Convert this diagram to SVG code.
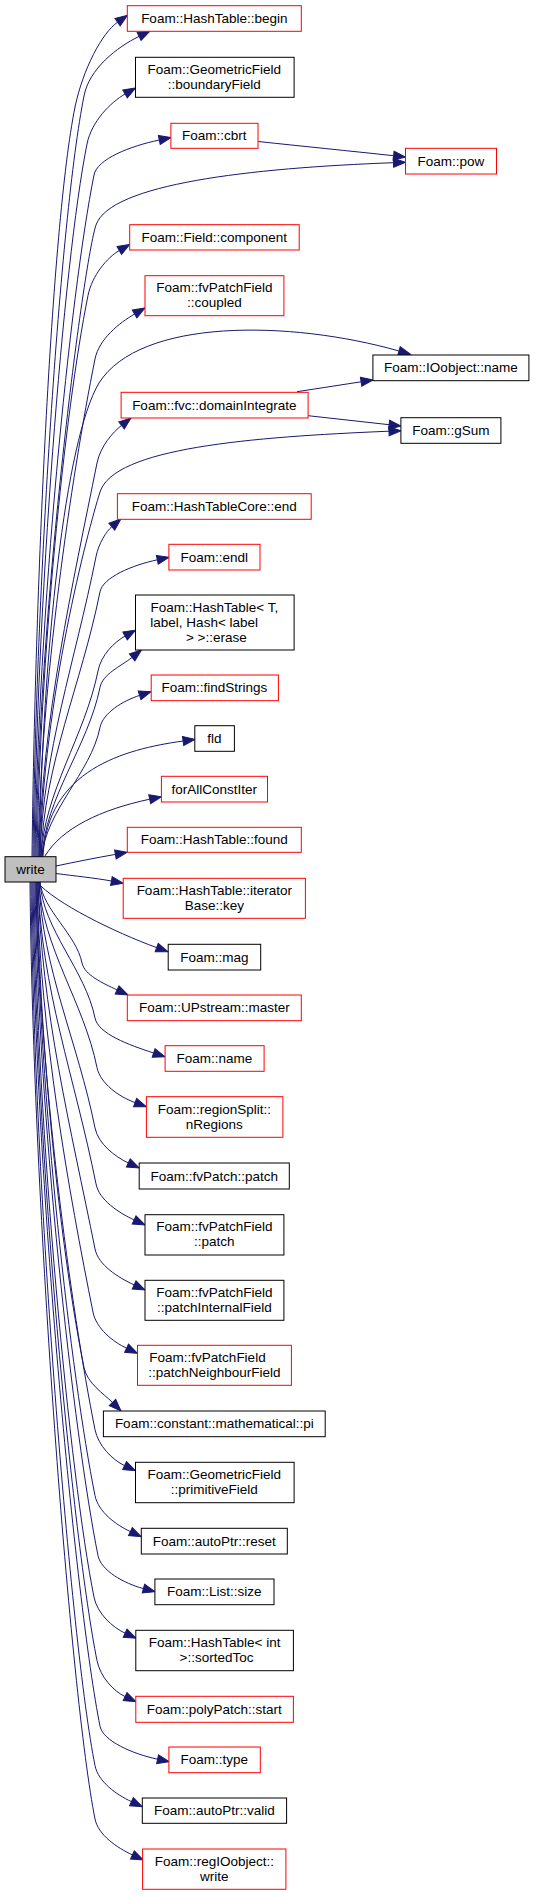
<svg xmlns="http://www.w3.org/2000/svg" width="535" height="1895" viewBox="0 0 535 1895">
<style>
.n rect{fill:#fff;stroke-width:1}
.r rect{stroke:#ff0000}
.b rect{stroke:#000}
text{font-family:"Liberation Sans",Arial,sans-serif;font-size:13.5px;fill:#000;text-anchor:middle}
#edges path{fill:none;stroke:#191970;stroke-width:1;marker-end:url(#arr)}
</style>
<defs>
<marker id="arr" markerWidth="12" markerHeight="9" refX="0" refY="4.5" orient="auto" markerUnits="userSpaceOnUse" viewBox="0 0 12 9" overflow="visible">
<path d="M0,0 L12,4.5 L0,9 z" fill="#191970" stroke="#191970" stroke-width="1"/>
</marker>
</defs>
<rect width="535" height="1895" fill="#fff"/>
<g id="edges">
<path d="M32,857 C35,594 51,227 75,107 C83,69 102,33 117.6,22.2"/>
<path d="M33,857 C36,591 60,216 84,96 C89,69 117,47 139.1,36.4"/>
<path d="M34,857 C37,607 63,264 87,144 C91.5,121.5 110.4,102.5 125.1,94"/>
<path d="M35,857 C38,618 70,295 94,175 C97,159 130.5,146 159.3,140"/>
<path d="M36,857 C39,600 84,260 96,225 C110,184 250,168 393.5,162.7"/>
<path d="M37,857 C40,660 64,415 88,295.5 C92,275.5 107.2,257.5 119.3,250.5"/>
<path d="M38,857 C41,683 71,479 95,359 C99,339 119.2,323 134.6,314"/>
<path d="M39,857 C43,650 65,440 99,383 C140,318 290,320 399,351"/>
<path d="M39,857 C42,719 73,583 97,463 C100.4,446.4 112.8,432.2 121.5,425.4"/>
<path d="M40,857 C43,700 88,530 100,492 C114,448 250,437 389,431.2"/>
<path d="M40,857 C43,752 75,662 96,556.7 C98.7,543.2 106.4,531.3 111.8,526.7"/>
<path d="M41,857 C44,764 81.4,684.6 100,591.8 C102.9,577.4 132.1,565.2 157.3,559.8"/>
<path d="M41,857 C44,792 85,736 98,671 C101,655 114.5,642 125.1,636"/>
<path d="M42,857 C45,797.6 88,746.8 100,687.4 C102.7,673.9 120.8,666.3 132.1,657.4"/>
<path d="M42,857 C45,811.6 91,772.8 100,727.4 C102.9,713 122.7,700.9 139.6,695.4"/>
<path d="M43,857 C47,770 123.7,749.3 183.1,741"/>
<path d="M45,856 C62,828 100.8,809.6 149.7,799.2"/>
<path d="M56,866 C75,862 95,858 115.4,854.4"/>
<path d="M56,873.5 C75,876 95,878 111.4,881"/>
<path d="M37,882 C55,903 114.4,932.2 156.7,947.6"/>
<path d="M40,882 C43,910 76.3,934.6 82,962.9 C84.4,974.9 102.8,983.2 117.1,989.9"/>
<path d="M40,882 C43,929.6 85.5,970.4 95,1018 C98.2,1033.75 128.5,1044.8 153.6,1053"/>
<path d="M39,882 C42,947 84,1002.6 97,1067.6 C100.2,1083.4 119,1096.8 135.1,1102.6"/>
<path d="M39,882 C42,968 77.8,1041.9 95,1127.9 C98.2,1143.7 114.7,1156.6 128.3,1162.9"/>
<path d="M38,882 C41,987.7 74.9,1078.2 96,1183.9 C99.2,1200.1 118.6,1212.7 134.1,1219.9"/>
<path d="M38,882 C41,1010 71,1128.9 95,1248.9 C98.2,1265.1 118.2,1277.5 134.1,1284.9"/>
<path d="M37,882 C40,1032.6 69,1192.2 93,1312.2 C96.2,1328.4 112.9,1341.8 126.6,1348.2"/>
<path d="M37,882 C40,1052 60,1247.5 84,1367.5 C87.2,1383.3 103.5,1393.5 112.5,1402.5"/>
<path d="M36,882 C39,1073.7 71,1309.6 95,1429.6 C98.2,1445.8 112.6,1460 124.6,1465.6"/>
<path d="M36,882 C39,1096.8 71,1375.6 95,1495.6 C98.2,1511.8 116,1524.9 130.4,1531.6"/>
<path d="M35,882 C38,1117.8 74,1435.6 98,1555.6 C101,1570.5 123.7,1583.3 143.4,1588.6"/>
<path d="M34,882 C37,1132 70,1477.2 94,1597.2 C97.2,1613.4 112.4,1627.3 125.1,1633.2"/>
<path d="M33,882 C36,1154.5 73,1540.6 97,1660.6 C100.2,1676.8 113.7,1691.3 125.1,1696.6"/>
<path d="M32,882 C35,1177 76,1606.2 100,1726.2 C103,1741 132.3,1753.8 157.6,1759.2"/>
<path d="M31,882 C34,1191 71,1645.6 95,1765.6 C98.2,1781.8 116.5,1794.7 131.4,1801.6"/>
<path d="M30,882 C33,1210 71,1698.9 95,1818.9 C98.2,1835.1 117.2,1847.8 132.4,1854.9"/>
<path d="M258.3,141.5 C300,146 350,151 393.6,155.7"/>
<path d="M297,391.7 C318,388.5 340,385 361.1,381.8"/>
<path d="M308,415.7 C335,418.7 362,421.7 389.1,424.7"/>
</g>
<g id="n1" class="n r"><rect x="127.3" y="5.7" width="174" height="25.6"/><text x="214.3" y="23">Foam::HashTable::begin</text></g>
<g id="n2" class="n b"><rect x="135.5" y="57.3" width="158.6" height="40"/><text x="214.3" y="73.6">Foam::GeometricField</text><text x="214.3" y="88.8">::boundaryField</text></g>
<g id="n3" class="n r"><rect x="170.9" y="123.3" width="87.1" height="25"/><text x="214.3" y="140.3">Foam::cbrt</text></g>
<g id="n4" class="n r"><rect x="405.5" y="148.3" width="91" height="25.7"/><text x="450.9" y="165.7">Foam::pow</text></g>
<g id="n5" class="n r"><rect x="129.7" y="224.7" width="169.5" height="25.3"/><text x="214.3" y="241.8">Foam::Field::component</text></g>
<g id="n6" class="n r"><rect x="145" y="275.7" width="138.9" height="40"/><text x="214.3" y="292.2">Foam::fvPatchField</text><text x="214.3" y="307.2">::coupled</text></g>
<g id="n7" class="n b"><rect x="372.9" y="355" width="156" height="25.7"/><text x="450.9" y="372.4">Foam::IOobject::name</text></g>
<g id="n8" class="n r"><rect x="121.1" y="392.3" width="187" height="25.7"/><text x="214.3" y="409.7">Foam::fvc::domainIntegrate</text></g>
<g id="n9" class="n b"><rect x="400.9" y="417.7" width="100" height="25.6"/><text x="450.9" y="435">Foam::gSum</text></g>
<g id="n10" class="n r"><rect x="117.4" y="493.7" width="193.8" height="25.6"/><text x="214.3" y="511">Foam::HashTableCore::end</text></g>
<g id="n11" class="n r"><rect x="168.9" y="544.3" width="91.1" height="25.7"/><text x="214.3" y="561.6">Foam::endl</text></g>
<g id="n12" class="n b"><rect x="135.5" y="595" width="158.6" height="55"/><text x="214.3" y="611.5">Foam::HashTable&lt; T,</text><text x="204.2" y="626.5">label, Hash&lt; label</text><text x="216.3" y="641.5">&gt; &gt;::erase</text></g>
<g id="n13" class="n r"><rect x="151.2" y="675" width="127.2" height="25.7"/><text x="214.3" y="692.3">Foam::findStrings</text></g>
<g id="n14" class="n b"><rect x="194.8" y="725.7" width="39.6" height="25.6"/><text x="214.3" y="743">fld</text></g>
<g id="n15" class="n r"><rect x="161.4" y="776.3" width="106.1" height="25.7"/><text x="214.3" y="793.6">forAllConstIter</text></g>
<g id="n16" class="n r"><rect x="127.3" y="827.3" width="174" height="25"/><text x="214.3" y="844.3">Foam::HashTable::found</text></g>
<g id="n17" class="n b"><rect x="5" y="856.7" width="51" height="25.3" style="fill:#bfbfbf"/><text x="30.5" y="873.8">write</text></g>
<g id="n18" class="n r"><rect x="123.2" y="878.3" width="182.2" height="40"/><text x="214.3" y="894.8">Foam::HashTable::iterator</text><text x="214.3" y="909.8">Base::key</text></g>
<g id="n19" class="n b"><rect x="168.2" y="944.3" width="92.5" height="25.7"/><text x="214.3" y="961.6">Foam::mag</text></g>
<g id="n20" class="n r"><rect x="127.3" y="995" width="174" height="25.7"/><text x="214.3" y="1012.3">Foam::UPstream::master</text></g>
<g id="n21" class="n r"><rect x="165.1" y="1045.7" width="99" height="25.6"/><text x="214.3" y="1063">Foam::name</text></g>
<g id="n22" class="n r"><rect x="146.4" y="1096.7" width="136.5" height="40.6"/><text x="214.3" y="1113.5">Foam::regionSplit::</text><text x="214.3" y="1128.5">nRegions</text></g>
<g id="n23" class="n b"><rect x="139.2" y="1163" width="150.1" height="26"/><text x="214.3" y="1180.5">Foam::fvPatch::patch</text></g>
<g id="n24" class="n b"><rect x="145" y="1214.7" width="138.9" height="40.3"/><text x="214.3" y="1231.3">Foam::fvPatchField</text><text x="214.3" y="1246.3">::patch</text></g>
<g id="n25" class="n b"><rect x="145" y="1280.3" width="138.9" height="40"/><text x="214.3" y="1296.8">Foam::fvPatchField</text><text x="214.3" y="1311.8">::patchInternalField</text></g>
<g id="n26" class="n r"><rect x="137.5" y="1345.3" width="153.9" height="40"/><text x="207.5" y="1361.8">Foam::fvPatchField</text><text x="214.4" y="1376.8">::patchNeighbourField</text></g>
<g id="n27" class="n b"><rect x="103.4" y="1411" width="221.8" height="25.7"/><text x="214.3" y="1428.3">Foam::constant::mathematical::pi</text></g>
<g id="n28" class="n b"><rect x="135.5" y="1462.3" width="158.6" height="40.4"/><text x="214.3" y="1479">Foam::GeometricField</text><text x="214.3" y="1494">::primitiveField</text></g>
<g id="n29" class="n b"><rect x="141.3" y="1528.3" width="146" height="25.7"/><text x="214.3" y="1545.6">Foam::autoPtr::reset</text></g>
<g id="n30" class="n b"><rect x="154.9" y="1579" width="119.1" height="25.7"/><text x="214.3" y="1596.3">Foam::List::size</text></g>
<g id="n31" class="n b"><rect x="135.8" y="1630.3" width="157.6" height="40.4"/><text x="214.6" y="1647">Foam::HashTable&lt; int</text><text x="216.5" y="1662">&gt;::sortedToc</text></g>
<g id="n32" class="n r"><rect x="135.8" y="1696.3" width="157.6" height="26"/><text x="214.3" y="1713.8">Foam::polyPatch::start</text></g>
<g id="n33" class="n r"><rect x="168.9" y="1747" width="91.4" height="25.7"/><text x="214.3" y="1764.3">Foam::type</text></g>
<g id="n34" class="n b"><rect x="142.3" y="1798" width="144.3" height="25.3"/><text x="214.3" y="1815.2">Foam::autoPtr::valid</text></g>
<g id="n35" class="n r"><rect x="142.6" y="1849" width="143.3" height="40.3"/><text x="214.3" y="1865.7">Foam::regIOobject::</text><text x="214.3" y="1880.7">write</text></g>
</svg>
